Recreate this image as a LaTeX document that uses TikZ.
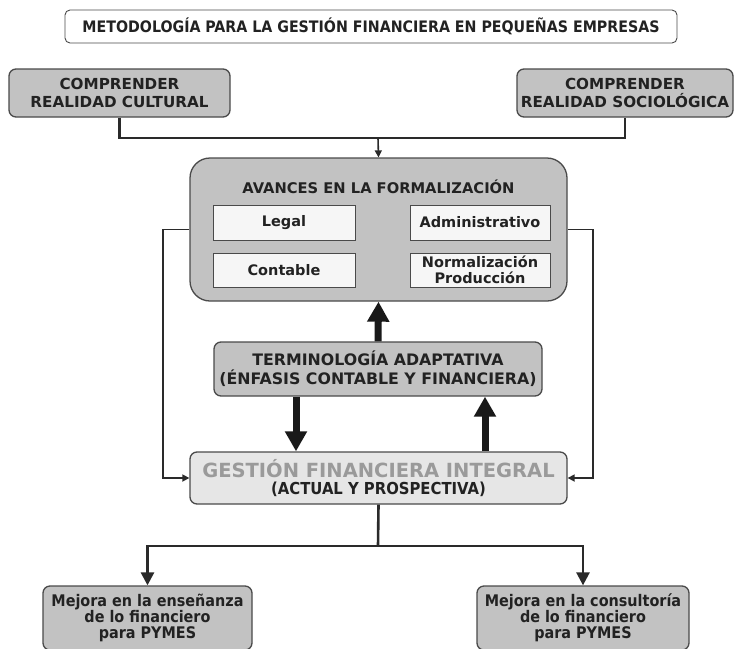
\documentclass[tikz,border=0pt]{standalone}
\usepackage{fontspec}
\setmainfont{DejaVu Sans}
\newfontfamily\tah{DejaVu Sans Condensed}
\usetikzlibrary{arrows.meta}
\definecolor{bordc}{HTML}{4A4A4A}
\definecolor{boxg}{HTML}{C2C2C2}
\definecolor{lightg}{HTML}{E6E6E6}
\definecolor{innerg}{HTML}{F6F6F6}
\definecolor{txtc}{HTML}{222222}
\definecolor{linec}{HTML}{2A2A2A}
\definecolor{gesttxt}{HTML}{9A9A9A}
\tikzset{
  box/.style={draw=bordc, line width=1.3pt, rounded corners=7pt, fill=boxg,
    inner sep=0pt, align=center, text=txtc,
    font=\bfseries\fontsize{15.2}{17.5}\selectfont},
  titlebox/.style={box, fill=white, draw=bordc, line width=0.9pt, rounded corners=5pt,
    font=\tah\bfseries\fontsize{15.8}{18}\selectfont},
  innerbox/.style={box, fill=innerg, rounded corners=0pt, line width=1pt,
    font=\bfseries\fontsize{14.5}{16}\selectfont},
  termbox/.style={box, font=\bfseries\fontsize{15.8}{19}\selectfont},
  mejora/.style={box, font=\tah\bfseries\fontsize{16}{16}\selectfont},
  thin/.style={draw=linec, line width=1.6pt},
  thinarr/.style={thin, -{Triangle[width=7pt,length=7pt]}},
  mid/.style={draw=linec, line width=2.6pt},
  midarr/.style={mid, -{Triangle[width=13pt,length=13pt]}},
  thickarr/.style={draw=black!90, line width=7pt, -{Triangle[width=21pt,length=20pt]}},
}
\begin{document}
\begin{tikzpicture}[x=1pt,y=-1pt]
\useasboundingbox (0,0) rectangle (741,648);
\node[titlebox, minimum width=612, minimum height=33] (title) at (371,26.5)
  {METODOLOGÍA PARA LA GESTIÓN FINANCIERA EN PEQUEÑAS EMPRESAS};
\node[box, minimum width=221, minimum height=48] (cult) at (119.5,93)
  {COMPRENDER\\REALIDAD CULTURAL};
\node[box, minimum width=216, minimum height=48] (soc) at (625,93)
  {COMPRENDER\\REALIDAD SOCIOLÓGICA};
\node[box, rounded corners=20pt, minimum width=377, minimum height=143] (avan) at (378.5,229.5) {};
\node[font=\bfseries\fontsize{14.7}{16}\selectfont, text=txtc] (avtit) at (378.5,187)
  {AVANCES EN LA FORMALIZACIÓN};
\node[innerbox, minimum width=142, minimum height=35] (legal) at (284,222.5) {Legal};
\node[innerbox, minimum width=140, minimum height=35] (admin) at (480,222.5) {Administrativo};
\node[innerbox, minimum width=142, minimum height=34] (cont) at (284,270) {Contable};
\node[innerbox, minimum width=140, minimum height=34] (norm) at (480,270)
  {Normalización\\Producción};
\node[termbox, minimum width=328, minimum height=54] (term) at (378,369)
  {TERMINOLOGÍA ADAPTATIVA\\(ÉNFASIS CONTABLE Y FINANCIERA)};
\node[box, fill=lightg, minimum width=377, minimum height=52] (gest) at (378.5,478)
  {{\color{gesttxt}\fontsize{19.5}{20}\selectfont GESTIÓN FINANCIERA INTEGRAL}\\[-1pt]
   {\tah\fontsize{16.5}{17}\selectfont (ACTUAL Y PROSPECTIVA)}};
\node[mejora, minimum width=209, minimum height=64] (mej1) at (147.5,618)
  {Mejora en la enseñanza\\de lo financiero\\para PYMES};
\node[mejora, minimum width=212, minimum height=64] (mej2) at (583,618)
  {Mejora en la consultoría\\de lo financiero\\para PYMES};
% coordinates
\coordinate (j1) at (378,138);
\coordinate (lc) at (163,0);
\coordinate (rc) at (593,0);
\coordinate (dl) at (296,0);
\coordinate (ul) at (485,0);
\coordinate (j2) at (378,546);
% top connectors
\draw[mid] (cult.south) |- (j1) -| (soc.south);
\draw[thinarr] (j1) -- (avan.north);
% side loops
\draw[thinarr] (avan.west) -- (avan.west -| lc) |- (gest.west);
\draw[thinarr] (avan.east) -- (avan.east -| rc) |- (gest.east);
% thick arrows
\draw[thickarr] (term.north) -- (avan.south);
\draw[thickarr] (term.south -| dl) -- (gest.north -| dl);
\draw[thickarr] (gest.north -| ul) -- (term.south -| ul);
% bottom tree
\draw[mid] (gest.south) -- (j2);
\draw[midarr] (j2) -| (mej1.north);
\draw[midarr] (j2) -| (mej2.north);
\end{tikzpicture}
\end{document}
